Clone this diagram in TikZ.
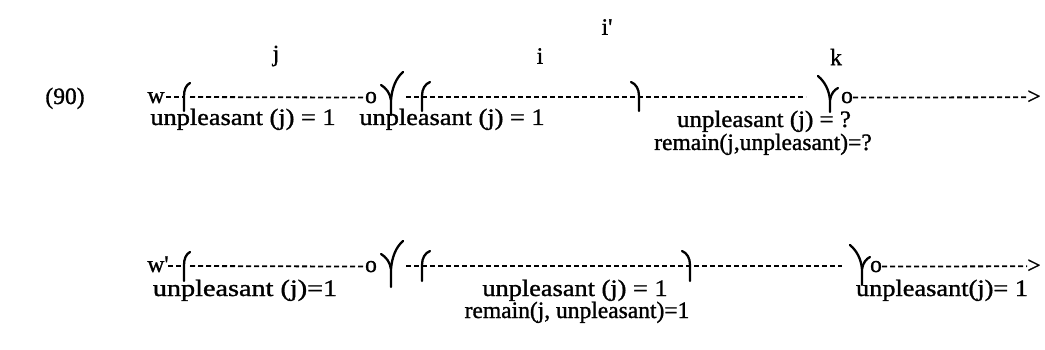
\documentclass[tikz,border=0pt]{standalone}
\usepackage{fontspec}
\setmainfont{Liberation Serif}
\newfontfamily\dfont[FakeBold=1.2]{Liberation Serif}
\newcommand{\widetxt}[1]{\scalebox{1.12}[1]{#1}}
\begin{document}
\begin{tikzpicture}[x=1pt,y=-1pt,
  lbl/.style={inner sep=0pt, font=\dfont\fontsize{23.5}{26}\selectfont},
  dsh/.style={line width=1.8pt, dash pattern=on 5pt off 3pt},
  brk/.style={line width=2.3pt, line cap=round}]
\useasboundingbox (0,0) rectangle (1045,350);
% ---------- top labels
\node[lbl] (lj) at (276,56) {j};
\node[lbl] (li) at (540,56) {i};
\node[lbl] (lip) at (607,27) {i\textquotesingle};
\node[lbl] (lk) at (836,57) {k};
% ---------- row 1
\node[lbl, anchor=base] (n90) at (65,104) {(90)};
\node[lbl, anchor=base] (w) at (156,103) {w};
\coordinate (w1s) at (166,97);
\coordinate (jL) at (184,97);
\coordinate (jLd) at (190,97);
\node[lbl, anchor=base] (o1) at (371,103) {o};
\coordinate (jY) at (391,97);
\coordinate (iLs) at (406,97);
\coordinate (iL) at (422,97);
\coordinate (iR) at (639,97);
\coordinate (kYe) at (806,97);
\coordinate (kY) at (830,97);
\node[lbl, anchor=base] (o2) at (847,103) {o};
\node[lbl, anchor=base] (ar1) at (1034,104) {>};
\draw[dsh] (w1s) -- (jL);
\draw[dsh] (jLd) -- (o1.west);
\draw[dsh] (iLs) -- (iL) -- (iR) -- (kYe);
\draw[dsh] (o2.east) -- (ar1.west);
% brackets row 1
\draw[brk] (190,83) .. controls (186,85) and (184,90) .. (184,96) -- (184,111);
\draw[brk] (381,85) .. controls (386,88) and (390,93) .. (391,100) -- (391,115);
\draw[brk] (403,72) .. controls (396,78) and (392,88) .. (391,100);
\draw[brk] (430,82) .. controls (425,84) and (422,89) .. (422,96) -- (422,111);
\draw[brk] (631,82) .. controls (636,84) and (639,89) .. (639,96) -- (639,111);
\draw[brk] (818,76) .. controls (825,82) and (829,90) .. (830,100) -- (830,112);
\draw[brk] (838,88) .. controls (834,90) and (831,94) .. (830,100);
% labels row 1
\node[lbl, anchor=base] (u1) at (243,125) {\widetxt{unpleasant (j) = 1}};
\node[lbl, anchor=base] (u2) at (452,125) {\widetxt{unpleasant (j) = 1}};
\node[lbl, anchor=base] (u3) at (764,127) {\scalebox{1.06}[1]{unpleasant (j) = ?}};
\node[lbl, anchor=base] (r3) at (763,150) {remain(j,unpleasant)=?};
% ---------- row 2
\node[lbl, anchor=base] (w2) at (158,272) {w\textquotesingle};
\coordinate (w2s) at (168,266);
\coordinate (jL2) at (184,266);
\coordinate (jL2d) at (190,266);
\node[lbl, anchor=base] (o3) at (371,272) {o};
\coordinate (iL2s) at (406,266);
\coordinate (iL2) at (422,266);
\coordinate (iR2) at (690,266);
\coordinate (kY2e) at (842,266);
\coordinate (kY2) at (862,266);
\node[lbl, anchor=base] (o4) at (876,272) {o};
\node[lbl, anchor=base] (ar2) at (1034,273) {>};
\draw[dsh] (w2s) -- (jL2);
\draw[dsh] (jL2d) -- (o3.west);
\draw[dsh] (iL2s) -- (iL2) -- (iR2) -- (kY2e);
\draw[dsh] (o4.east) -- (ar2.west);
% brackets row 2
\draw[brk] (190,252) .. controls (186,254) and (184,259) .. (184,265) -- (184,281);
\draw[brk] (381,254) .. controls (386,257) and (390,262) .. (391,269) -- (391,287);
\draw[brk] (403,241) .. controls (396,247) and (392,257) .. (391,269);
\draw[brk] (430,251) .. controls (425,253) and (422,258) .. (422,265) -- (422,281);
\draw[brk] (682,251) .. controls (687,253) and (690,258) .. (690,265) -- (690,281);
\draw[brk] (850,245) .. controls (857,251) and (861,259) .. (862,269) -- (862,285);
\draw[brk] (870,257) .. controls (866,259) and (863,263) .. (862,269);
% labels row 2
\node[lbl, anchor=base] (u4) at (245,296) {\scalebox{1.2}[1]{unpleasant (j)=1}};
\node[lbl, anchor=base] (u5) at (575,296) {\widetxt{unpleasant (j) = 1}};
\node[lbl, anchor=base] (r5) at (577,318) {remain(j, unpleasant)=1};
\node[lbl, anchor=base] (u6) at (942,296) {\widetxt{unpleasant(j)= 1}};
\end{tikzpicture}
\end{document}
